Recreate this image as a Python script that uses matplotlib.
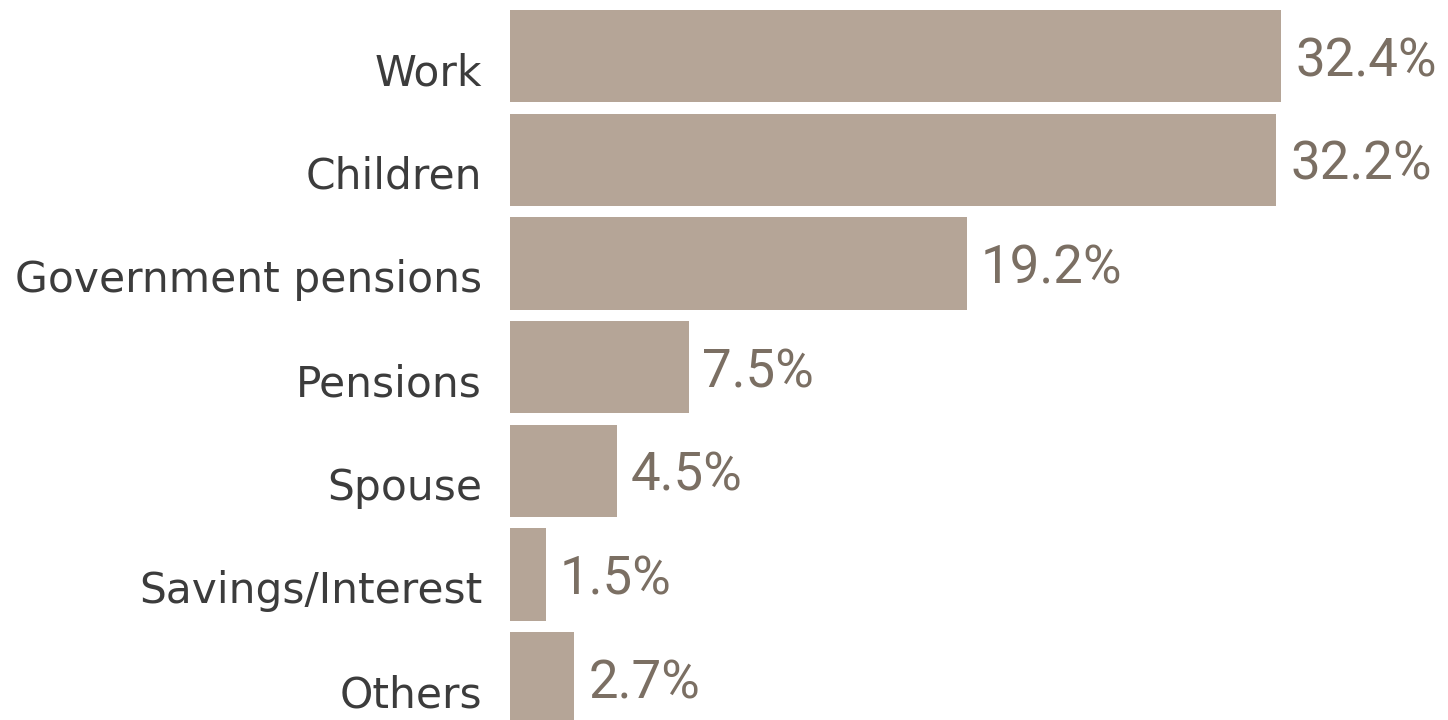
import matplotlib
matplotlib.use("Agg")
import matplotlib.pyplot as plt
import matplotlib.transforms as mtrans

# income sources, top to bottom
categories = ["Work", "Children", "Government pensions", "Pensions",
              "Spouse", "Savings/Interest", "Others"]
shares = [32.4, 32.2, 19.2, 7.5, 4.5, 1.5, 2.7]

bar_col = "#b5a597"
val_col = "#7b6f63"
lab_col = "#3c3c3c"

fig = plt.figure(figsize=(14.48, 7.2), dpi=100)
# axes runs from the bars' left edge to the right side of the figure
ax = fig.add_axes([510 / 1448, 0, 938 / 1448, 1])

pos = list(range(len(categories)))
ax.barh(pos, shares, height=0.89, color=bar_col, linewidth=0)

# px per percent ~23.8, bar pitch ~103.7 px
ax.set_xlim(0, 938 / 23.8)
ax.set_ylim((720 - 56) / 103.7, -56 / 103.7)
ax.axis("off")

# category labels sit a little below the bar centre
lab_off = mtrans.ScaledTranslation(-28 / 100, -17 / 100, fig.dpi_scale_trans)
for i, name in enumerate(categories):
    ax.text(0, i, name, ha="right", va="center", fontsize=30.5,
            family="DejaVu Sans", color=lab_col,
            transform=ax.transData + lab_off)

# value labels to the right of each bar
for i, v in enumerate(shares):
    ax.annotate(f"{v}%", (v, i), xytext=(10, -4), textcoords="offset points",
                ha="left", va="center", fontsize=38, family="Roboto",
                color=val_col)

fig.savefig("out.png", dpi=100)
